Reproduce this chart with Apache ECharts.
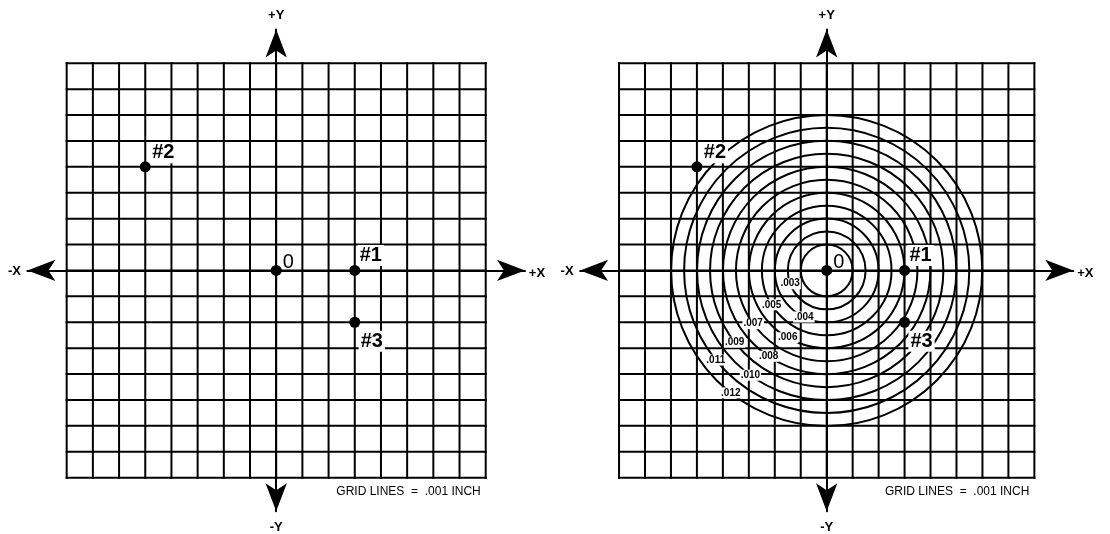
<!DOCTYPE html>
<html><head><meta charset="utf-8">
<script src="https://cdn.jsdelivr.net/npm/echarts@6/dist/echarts.min.js"></script>
<style>html,body{margin:0;padding:0;background:#fff}#c{width:1110px;height:534px}</style>
</head><body><div id="c"></div>
<script>
// ---------- data ----------
const gridTicks = [-8,-7,-6,-5,-4,-3,-2,-1,0,1,2,3,4,5,6,7,8];   // grid lines, units of .001 inch
const pointNames = ['0', '#1', '#2', '#3'];
const pointX = [0, 3, -5, 3];
const pointY = [0, 0, 4, -2];
const circleTIR = [2, 3, 4, 5, 6, 7, 8, 9, 10, 11, 12];          // TIR in .001 inch, radius = TIR/2
const circleLabels = ['', '.003', '.004', '.005', '.006', '.007', '.008', '.009', '.010', '.011', '.012'];
const axisEndNames = ['+X', '-X', '+Y', '-Y'];
const gridNote = 'GRID LINES  =  .001 INCH';

// ---------- layout / style ----------
const FONT = '"Liberation Sans", Arial, Helvetica, sans-serif';
const X_R = 9.5, Y_R = 9.3;
const labelAngles = [0, 200, 244, 212, 240, 216, 236, 218, 234, 219, 232]; // degrees, label placement on rings
const pointLabelOffsets = [[12, -8], [16, -15], [18, -14], [17, 19]];
const axisEndOffsets = [[12, 3], [-13, 1], [0, -14.5], [0, 16.5]];   // px beyond arrow tip
const ARROW = [16, 28];

const grids = [
  {left: 27.4, top: 29.6, width: 497.6, height: 481.7},
  {left: 580.1, top: 29.6, width: 493.2, height: 481.7}
];

const chart = echarts.init(document.getElementById('c'), null, {renderer: 'canvas'});

function axisCommon(i, R) {
  return {
    gridIndex: i, type: 'value', min: -R, max: R,
    axisLine: {show: true, onZero: true, lineStyle: {color: '#000', width: 2},
               symbol: ['arrow', 'arrow'], symbolSize: ARROW},
    axisTick: {show: false}, axisLabel: {show: false}, splitLine: {show: false}
  };
}

const series = [];
[0, 1].forEach(function (gi) {
  // grid lines
  series.push({
    type: 'custom', xAxisIndex: gi, yAxisIndex: gi, silent: true, z: 1,
    data: gridTicks.map(v => [v, v]),
    renderItem: function (params, api) {
      const v = api.value(0);
      const lo = gridTicks[0], hi = gridTicks[gridTicks.length - 1];
      const a = api.coord([v, lo]), b = api.coord([v, hi]);
      const c = api.coord([lo, v]), d = api.coord([hi, v]);
      const st = {stroke: '#000', lineWidth: 2, lineCap: 'square'};
      return {type: 'group', children: [
        {type: 'line', shape: {x1: a[0], y1: a[1], x2: b[0], y2: b[1]}, style: st},
        {type: 'line', shape: {x1: c[0], y1: c[1], x2: d[0], y2: d[1]}, style: st}
      ]};
    }
  });
  if (gi === 1) {
    // TIR rings
    series.push({
      type: 'custom', xAxisIndex: gi, yAxisIndex: gi, silent: true, z: 2,
      data: circleTIR.map(t => [t, 0]),
      renderItem: function (params, api) {
        const r = api.value(0) / 2;
        const c = api.coord([0, 0]);
        const s = api.size([r, r]);
        return {type: 'circle', shape: {cx: c[0], cy: c[1], r: (s[0] + s[1]) / 2},
                style: {fill: 'none', stroke: '#000', lineWidth: 2}};
      }
    });
    // ring labels
    series.push({
      type: 'custom', xAxisIndex: gi, yAxisIndex: gi, silent: true, z: 5,
      data: circleTIR.map(t => [t, 0]),
      renderItem: function (params, api) {
        const idx = params.dataIndex;
        if (!circleLabels[idx]) return null;
        const r = api.value(0) / 2;
        const ang = labelAngles[idx] * Math.PI / 180;
        const p = api.coord([r * Math.cos(ang), r * Math.sin(ang)]);
        return {type: 'text', x: p[0], y: p[1],
                style: {text: circleLabels[idx], fill: '#000', font: 'bold 10px ' + FONT,
                        align: 'center', verticalAlign: 'middle', backgroundColor: '#fff', padding: [1, 1, 0, 1]}};
      }
    });
  }
  // points
  series.push({
    type: 'scatter', xAxisIndex: gi, yAxisIndex: gi, z: 6, symbolSize: 11,
    itemStyle: {color: '#000', opacity: 1},
    data: pointNames.map((n, i) => ({
      name: n, value: [pointX[i], pointY[i]],
      label: {
        show: true, position: 'inside', offset: pointLabelOffsets[i], formatter: '{b}',
        color: '#000', fontFamily: FONT, fontSize: 20,
        fontWeight: i === 0 ? 'normal' : 'bold',
        backgroundColor: i === 0 ? 'transparent' : '#fff', padding: [1, 2, 0, 2]
      }
    })),
    emphasis: {disabled: true}
  });
  // axis end names + note
  series.push({
    type: 'custom', xAxisIndex: gi, yAxisIndex: gi, silent: true, z: 7,
    data: axisEndNames.map((n, i) => [i, 0]),
    renderItem: function (params, api) {
      const i = params.dataIndex;
      const ends = [[X_R, 0], [-X_R, 0], [0, Y_R], [0, -Y_R]];
      const p = api.coord(ends[i]);
      const x = p[0] + axisEndOffsets[i][0];
      const y = p[1] + axisEndOffsets[i][1];
      const children = [{type: 'text', x: x, y: y,
        style: {text: axisEndNames[i], fill: '#000', font: 'bold 13px ' + FONT,
                align: 'center', verticalAlign: 'middle'}}];
      if (i === 0) {
        const hi = gridTicks[gridTicks.length - 1], lo = gridTicks[0];
        const q = api.coord([hi, lo]);
        children.push({type: 'text', x: q[0] - 5, y: q[1] + 14,
          style: {text: gridNote, fill: '#000', font: '12px ' + FONT, align: 'right', verticalAlign: 'middle'}});
      }
      return {type: 'group', children: children};
    }
  });
});

chart.setOption({
  animation: false,
  backgroundColor: '#fff',
  grid: grids.map(g => Object.assign({containLabel: false, show: false}, g)),
  xAxis: [axisCommon(0, X_R), axisCommon(1, X_R)],
  yAxis: [axisCommon(0, Y_R), axisCommon(1, Y_R)],
  series: series
});
</script>
</body></html>
